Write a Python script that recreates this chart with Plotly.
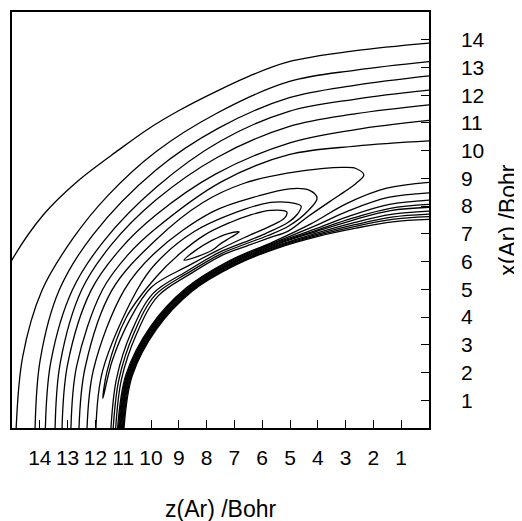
import numpy as np
import plotly.graph_objects as go

# Contour lines, in polar form around the origin
# (phi in degrees measured from the z axis, r in Bohr), listed along each line.
L1_phi = [14, 22, 29, 35, 42, 47, 52, 57.7, 63, 69, 79, 90]
L1_r = [16.5, 16.18, 15.86, 15.47, 15.0, 14.77, 14.55, 14.35, 14.24, 14.14, 13.86, 13.88]
L2_phi = [0, 10, 19.6, 28, 36, 45.4, 56, 68, 78.5, 90]
L2_r = [14.85, 14.84, 14.78, 14.52, 14.27, 13.99, 13.68, 13.47, 13.17, 13.21]
L3_phi = [0, 10, 20.5, 30, 43.4, 55, 67, 78, 90]
L3_r = [14.17, 14.2, 14.2, 13.95, 13.53, 13.2, 12.93, 12.64, 12.7]
L4_phi = [0, 10, 21.2, 30, 41.5, 54, 66.2, 77.5, 90]
L4_r = [13.8, 13.81, 13.76, 13.5, 13.1, 12.78, 12.48, 12.15, 12.18]
L5_phi = [0, 10, 21.7, 30, 39.9, 52, 65.1, 77, 90]
L5_r = [13.45, 13.47, 13.45, 13.2, 12.81, 12.38, 11.98, 11.63, 11.65]
L6_phi = [0, 10, 22.2, 30, 38, 50, 63.9, 76.2, 90]
L6_r = [13.2, 13.2, 13.13, 12.85, 12.47, 11.95, 11.44, 11.08, 11.09]
L7_phi = [0, 10, 22.9, 30, 36.2, 50, 62.9, 75.5, 90]
L7_r = [12.88, 12.87, 12.76, 12.5, 12.18, 11.6, 11.07, 10.5, 10.35]

# open tongues (both ends on the z axis): outer branch -> tip -> inner branch
A_phi = [0, 10, 23.6, 34.6, 45, 53, 61.3, 68, 72, 74.3, 75.6, 73.4, 70.2, 67, 60.3, 54.5, 50, 45, 40, 33, 26, 18, 9, 0]
A_r = [12.59, 12.56, 12.44, 11.94, 11.5, 11.05, 10.49, 10.1, 9.88, 9.72, 9.42, 9.2, 9.04, 8.93, 8.78, 8.72, 8.95, 9.28, 9.7, 10.22, 10.85, 11.05, 11.2, 11.27]
B_phi = [0, 10, 24.4, 32.8, 45, 53.7, 59.8, 63.3, 64.1, 61.2, 55.3, 50, 45, 40, 33, 26, 18, 9, 0]
B_r = [12.3, 12.25, 12.04, 11.7, 11.02, 10.38, 9.98, 9.6, 9.22, 8.97, 8.86, 9.05, 9.37, 9.77, 10.3, 10.95, 11.15, 11.29, 11.36]
C_phi = [0, 10, 25.3, 31.1, 40, 50, 55, 58.2, 60.1, 58.5, 55.8, 50, 45, 40, 33, 26, 18, 9, 0]
C_r = [11.98, 11.92, 11.62, 11.48, 11.02, 10.3, 9.93, 9.57, 9.23, 9.05, 8.98, 9.15, 9.45, 9.85, 10.38, 11.05, 11.25, 11.38, 11.44]
# closed crescent around the well and the small innermost loop
D_phi = [5.2, 10, 20, 28.9, 35, 40.9, 46, 50, 54, 56.7, 55.5, 52, 46, 40, 34, 27, 20, 12, 5.2]
D_r = [11.78, 11.76, 11.6, 11.23, 10.95, 10.65, 10.3, 10.02, 9.7, 9.32, 9.18, 9.25, 9.55, 9.95, 10.45, 11.2, 11.45, 11.65, 11.78]
E_phi = [34.5, 37.5, 40.9, 44, 46, 44, 41.5, 39.4, 36.8, 34.5]
E_r = [10.69, 10.55, 10.33, 10.08, 9.83, 9.9, 10.02, 10.1, 10.35, 10.69]

# repulsive wall: densely packed lines, innermost (W1) to outermost (W9)
wall_phi = [0, 10, 20, 30, 40, 50, 60, 70, 80, 90]
W1_r = [10.97, 10.84, 10.43, 9.85, 9.12, 8.47, 7.98, 7.67, 7.55, 7.52]
W2_r = [11.0, 10.87, 10.46, 9.88, 9.15, 8.5, 8.02, 7.74, 7.64, 7.62]
W3_r = [11.03, 10.9, 10.49, 9.91, 9.18, 8.54, 8.06, 7.8, 7.72, 7.71]
W4_r = [11.06, 10.93, 10.52, 9.94, 9.22, 8.57, 8.11, 7.88, 7.82, 7.82]
W5_r = [11.09, 10.96, 10.55, 9.97, 9.25, 8.61, 8.17, 7.98, 7.96, 7.96]
W6_r = [11.11, 10.98, 10.58, 10.0, 9.28, 8.64, 8.21, 8.05, 8.04, 8.06]
W7_r = [11.14, 11.01, 10.61, 10.03, 9.31, 8.68, 8.27, 8.16, 8.19, 8.22]
W8_r = [11.17, 11.04, 10.64, 10.06, 9.35, 8.71, 8.37, 8.35, 8.44, 8.48]
W9_r = [11.2, 11.07, 10.67, 10.09, 9.38, 8.75, 8.5, 8.62, 8.78, 8.86]

tick_vals = list(range(1, 15))
tick_text = [str(v) for v in tick_vals]
x_title = "z(Ar) /Bohr"
y_title = "x(Ar) /Bohr"

curves = [
    (L1_phi, L1_r), (L2_phi, L2_r), (L3_phi, L3_r), (L4_phi, L4_r),
    (L5_phi, L5_r), (L6_phi, L6_r), (L7_phi, L7_r),
    (A_phi, A_r), (B_phi, B_r), (C_phi, C_r), (D_phi, D_r), (E_phi, E_r),
]
for w in [W1_r, W2_r, W3_r, W4_r, W5_r, W6_r, W7_r, W8_r, W9_r]:
    curves.append((wall_phi, w))

fig = go.Figure()
for phi, r in curves:
    p = np.radians(np.array(phi, dtype=float))
    rr = np.array(r, dtype=float)
    fig.add_trace(go.Scatter(
        x=rr * np.cos(p), y=rr * np.sin(p), mode="lines",
        line=dict(color="black", width=1.3, shape="spline", smoothing=1.0),
        showlegend=False, hoverinfo="skip", cliponaxis=True,
    ))

fam = "Liberation Sans, Arial, Helvetica, sans-serif"
tick_font = dict(family=fam, size=21, color="black")
title_font = dict(family=fam, size=23, color="black")
fig.update_layout(
    template="none",
    width=514, height=513,
    margin=dict(l=4, r=93, t=4, b=93, pad=0),
    paper_bgcolor="white", plot_bgcolor="white",
    font=tick_font,
    xaxis=dict(
        range=[15, 0], tickvals=tick_vals, ticktext=tick_text, automargin=False,
        ticks="inside", ticklen=8, tickwidth=1.3, tickcolor="black",
        showline=True, linecolor="black", linewidth=1.5, mirror=True,
        showgrid=False, zeroline=False, ticklabelstandoff=10, tickfont=tick_font,
    ),
    yaxis=dict(
        range=[0, 15], tickvals=tick_vals, ticktext=tick_text, side="right", automargin=False,
        ticks="inside", ticklen=8, tickwidth=1.3, tickcolor="black",
        showline=True, linecolor="black", linewidth=1.5, mirror=True,
        showgrid=False, zeroline=False, ticklabelstandoff=26, tickfont=tick_font,
    ),
    annotations=[
        dict(text=x_title, xref="paper", yref="paper", x=0.501, y=-0.195,
             xanchor="center", yanchor="middle", showarrow=False, font=title_font),
        dict(text=y_title, xref="paper", yref="paper", x=1.189, y=0.5,
             xanchor="center", yanchor="middle", showarrow=False, font=title_font,
             textangle=-90),
    ],
)
fig.write_html("out.html")
